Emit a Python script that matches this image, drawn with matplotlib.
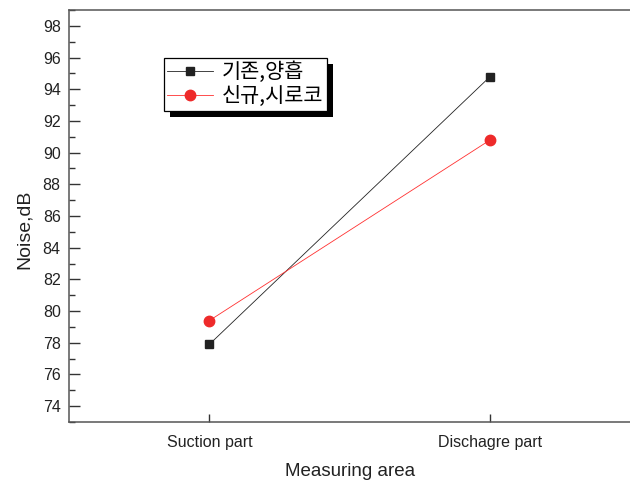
import matplotlib
matplotlib.use("Agg")
import matplotlib.pyplot as plt
from matplotlib.patches import Rectangle
from matplotlib.ticker import MultipleLocator

# data
categories = ["Suction part", "Dischagre part"]
old_noise = [77.9, 94.8]   # 기존,양흡
new_noise = [79.4, 90.8]   # 신규,시로코
series_labels = ["기존,양흡", "신규,시로코"]
y_ticks = [74, 76, 78, 80, 82, 84, 86, 88, 90, 92, 94, 96, 98]

plt.rcParams['font.family'] = ['Liberation Sans', 'DejaVu Sans']

fig = plt.figure(figsize=(6.3, 4.82), dpi=100)
ax = fig.add_axes([69 / 630, 1 - 422 / 482, 561.5 / 630, 412 / 482])

x = list(range(1, len(categories) + 1))
ax.plot(x, old_noise, color='#222222', lw=0.6, marker='s', ms=6,
        mfc='#222222', mec='#222222', label=series_labels[0])
ax.plot(x, new_noise, color='#ff3030', lw=0.6, marker='o', ms=7.5,
        mfc='#ee2a2a', mec='#ee2a2a', label=series_labels[1])

ax.set_xlim(0.5, 2.5)
ax.set_ylim(73, 99)
ax.set_xticks(x)
ax.set_xticklabels(categories)
ax.set_yticks(y_ticks)
ax.yaxis.set_minor_locator(MultipleLocator(1))

ax.tick_params(axis='both', which='both', direction='in', color='#333333',
               labelsize=11.5, labelcolor='#222222')
ax.tick_params(axis='y', which='major', length=8, width=1, pad=6)
ax.tick_params(axis='y', which='minor', length=4, width=1)
ax.tick_params(axis='x', which='major', length=6, width=1, pad=9)
for s in ax.spines.values():
    s.set_color('#555555')
    s.set_linewidth(1.1)
ax.spines['right'].set_visible(False)

ax.set_xlabel("Measuring area", fontsize=13.5, color='#222222', labelpad=10)
ax.set_ylabel("Noise,dB", fontsize=14, color='#222222')
ax.yaxis.set_label_coords(-0.064, 0.468)

leg = ax.legend(loc='upper left', bbox_to_anchor=(0.169, 0.883),
                prop={'family': ['Noto Sans CJK KR', 'DejaVu Sans'], 'size': 15},
                fancybox=False, edgecolor='black', framealpha=1,
                handlelength=2.2, handletextpad=0.45, borderpad=0.15,
                labelspacing=0.1, borderaxespad=0, numpoints=1)
leg.get_frame().set_linewidth(0.9)

# solid black drop shadow like the Origin legend
fig.canvas.draw()
bb = leg.get_window_extent().transformed(ax.transAxes.inverted())
dx = 6 / (561.5)
dy = 6 / 412
ax.add_patch(Rectangle((bb.x0 + dx, bb.y0 - dy), bb.width, bb.height,
                       transform=ax.transAxes, facecolor='black',
                       edgecolor='none', zorder=4.9, clip_on=False))

fig.savefig("out.png", dpi=100)
